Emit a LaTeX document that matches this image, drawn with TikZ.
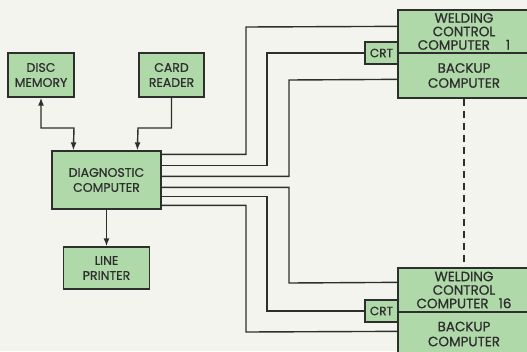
\documentclass[tikz,border=0pt]{standalone}
\usepackage{fontspec}
\setmainfont{Poppins}[FakeBold=0.8]
\usetikzlibrary{arrows.meta, calc}
\definecolor{panelGreen}{HTML}{B0D9A9}
\definecolor{paperColor}{HTML}{F4F4EF}
\definecolor{inkColor}{HTML}{2E2E2E}
\tikzset{
  unit/.style={draw=inkColor, line width=1.3pt, fill=panelGreen, align=center, inner sep=0pt,
    text=inkColor, font=\fontsize{12.5}{15}\selectfont},
  station/.style={unit, minimum width=132pt, font=\fontsize{13.5}{13.5}\selectfont},
  wire/.style={draw=inkColor, line width=1.4pt},
  tip/.style={arrows={-{Latex[length=8pt,width=6pt]}}},
}

\begin{document}
\begin{tikzpicture}[x=1pt, y=-1pt]
    \useasboundingbox (0,0) rectangle (527,351);
    \fill[paperColor] (0,0) rectangle (527,351);
    \clip (0,0) rectangle (527,351);
    % peripherals
    \node[unit, minimum width=66pt, minimum height=44pt] (disc) at (41,75) {DISC\\MEMORY};
    \node[unit, minimum width=65pt, minimum height=44pt] (card) at (171.5,75) {CARD\\READER};
    \node[unit, minimum width=109pt, minimum height=58pt] (diag) at (106.5,180) {DIAGNOSTIC\\COMPUTER};
    \node[unit, minimum width=86pt, minimum height=42pt] (printer) at (106.5,268) {LINE\\PRINTER};
    % welding stations
    \node[station, minimum height=43pt] (weld1) at (464,31.5) {WELDING\\CONTROL\\COMPUTER\hspace{16pt}1};
    \node[station, minimum height=45pt, font=\fontsize{13.5}{15}\selectfont] (backup1) at (464,75.5) {BACKUP\\COMPUTER};
    \node[unit, minimum width=33pt, minimum height=22pt, font=\fontsize{12}{14}\selectfont] (crt1) at (381.5,53) {CRT};
    \node[station, minimum height=44pt] (weld16) at (464,290) {WELDING\\CONTROL\\COMPUTER\hspace{10pt}16};
    \node[station, minimum height=44pt, font=\fontsize{13.5}{15}\selectfont] (backup16) at (464,334) {BACKUP\\COMPUTER};
    \node[unit, minimum width=33pt, minimum height=22pt, font=\fontsize{12}{14}\selectfont] (crt16) at (381.5,311) {CRT};
    % arrows
    \draw[wire, arrows={{Latex[length=8pt,width=6pt]}-{Latex[length=8pt,width=6pt]}}]
        (disc.south) |- (74,128) -- ([xshift=22pt]diag.north west);
    \draw[wire, tip] (card.south) |- (138,128) -- ([xshift=86pt]diag.north west);
    \draw[wire, tip] (diag.south) -- (printer.north);
    % links to the stations
    \draw[wire] ([yshift=-4pt]diag.north east) -| (246,27) -- ([yshift=-17pt]weld1.north west);
    \draw[wire] ([yshift=-15pt]diag.north east) -| (267,53) -- (crt1.west);
    \draw[wire] ([yshift=-26pt]diag.north east) -| (289,80) -- ([yshift=-27pt]backup1.north west);
    \draw[wire] ([yshift=-37pt]diag.north east) -| (289,283) -- ([yshift=-15pt]weld16.north west);
    \draw[wire] ([yshift=-46pt]diag.north east) -| (267,311) -- (crt16.west);
    \draw[wire] ([yshift=-55pt]diag.north east) -| (246,332) -- ([yshift=-20pt]backup16.north west);
    \draw[wire, dash pattern=on 7pt off 5pt] (backup1.south) -- (weld16.north);
\end{tikzpicture}
\end{document}
